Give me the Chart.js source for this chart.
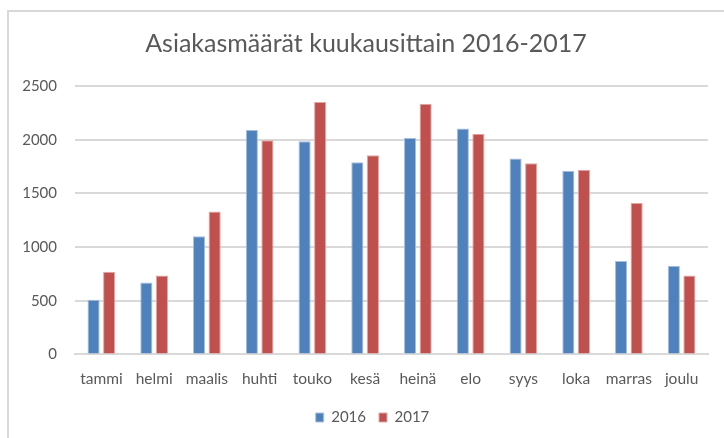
<!DOCTYPE html>
<html>
<head>
<meta charset="utf-8">
<script src="https://cdn.jsdelivr.net/npm/chart.js@4.4.1/dist/chart.umd.min.js"></script>
<style>
    html, body { margin: 0; padding: 0; background: #fff; overflow: hidden; }
    #wrap { position: relative; width: 724px; height: 438px; }
    #frame { position: absolute; left: 7px; top: 10px; width: 730px; height: 440px;
             border-left: 2px solid #d9d9d9; border-top: 2px solid #d9d9d9; }
    canvas { position: absolute; left: 0; top: 0; }
</style>
</head>
<body>
<div id="wrap">
    <div id="frame"></div>
    <canvas id="customerChart" width="724" height="438"></canvas>
</div>
<script>
// Kuukaudet ja asiakasmäärät
const months = ['tammi', 'helmi', 'maalis', 'huhti', 'touko', 'kesä', 'heinä', 'elo', 'syys', 'loka', 'marras', 'joulu'];
const customers2016 = [510, 670, 1100, 2090, 1985, 1790, 2015, 2105, 1825, 1710, 870, 825];
const customers2017 = [770, 735, 1330, 1995, 2350, 1855, 2335, 2055, 1780, 1720, 1410, 735];
const yTicks = [0, 500, 1000, 1500, 2000, 2500];

const textColor = '#595959';
const gridColor = '#d9d9d9';
const fontFamily = 'Lato, "Open Sans", sans-serif';

// Keskitetään otsikko ja selite kehyksen mukaan, ei piirtoalueen
const centerBlocks = {
    id: 'centerBlocks',
    afterLayout(chart) {
        chart.titleBlock.left = 8;
        chart.titleBlock.right = 724;
        chart.legend.left = 21;
        chart.legend.right = 724;
        chart.legend.top += 2;
        chart.legend.bottom += 2;
    }
};

const ctx = document.getElementById('customerChart').getContext('2d');
new Chart(ctx, {
    type: 'bar',
    data: {
        labels: months,
        datasets: [{
            label: '2016',
            data: customers2016,
            backgroundColor: '#4f81bd',
            borderColor: '#a7c0de',
            borderWidth: 1,
            categoryPercentage: 0.59,
            barPercentage: 0.78
        }, {
            label: '2017',
            data: customers2017,
            backgroundColor: '#c0504d',
            borderColor: '#dfa7a6',
            borderWidth: 1,
            categoryPercentage: 0.59,
            barPercentage: 0.78
        }]
    },
    options: {
        responsive: false,
        animation: false,
        layout: { padding: { left: 0, right: 16, top: 0, bottom: 5 } },
        plugins: {
            title: {
                display: true,
                text: 'Asiakasmäärät kuukausittain 2016-2017',
                color: textColor,
                font: { family: fontFamily, size: 25, weight: 'normal' },
                padding: { top: 29, bottom: 27 }
            },
            legend: {
                position: 'bottom',
                labels: {
                    color: textColor,
                    font: { family: fontFamily, size: 15 },
                    boxWidth: 8,
                    boxHeight: 9,
                    padding: 13
                }
            },
            tooltip: { enabled: false }
        },
        scales: {
            x: {
                grid: { display: false },
                border: { color: gridColor, width: 2 },
                ticks: {
                    color: textColor,
                    font: { family: fontFamily, size: 15.5 },
                    maxRotation: 0,
                    padding: 7
                }
            },
            y: {
                min: 0,
                max: 2500,
                afterBuildTicks: function (scale) {
                    scale.ticks = yTicks.map(v => ({ value: v }));
                },
                afterFit: function (scale) {
                    scale.width = 75;
                },
                grid: { color: gridColor, lineWidth: 2, drawTicks: false },
                border: { display: false },
                ticks: {
                    color: textColor,
                    font: { family: fontFamily, size: 15 },
                    padding: 18,
                    callback: function (value) {
                        return String(value);
                    }
                }
            }
        }
    },
    plugins: [centerBlocks]
});
</script>
</body>
</html>
